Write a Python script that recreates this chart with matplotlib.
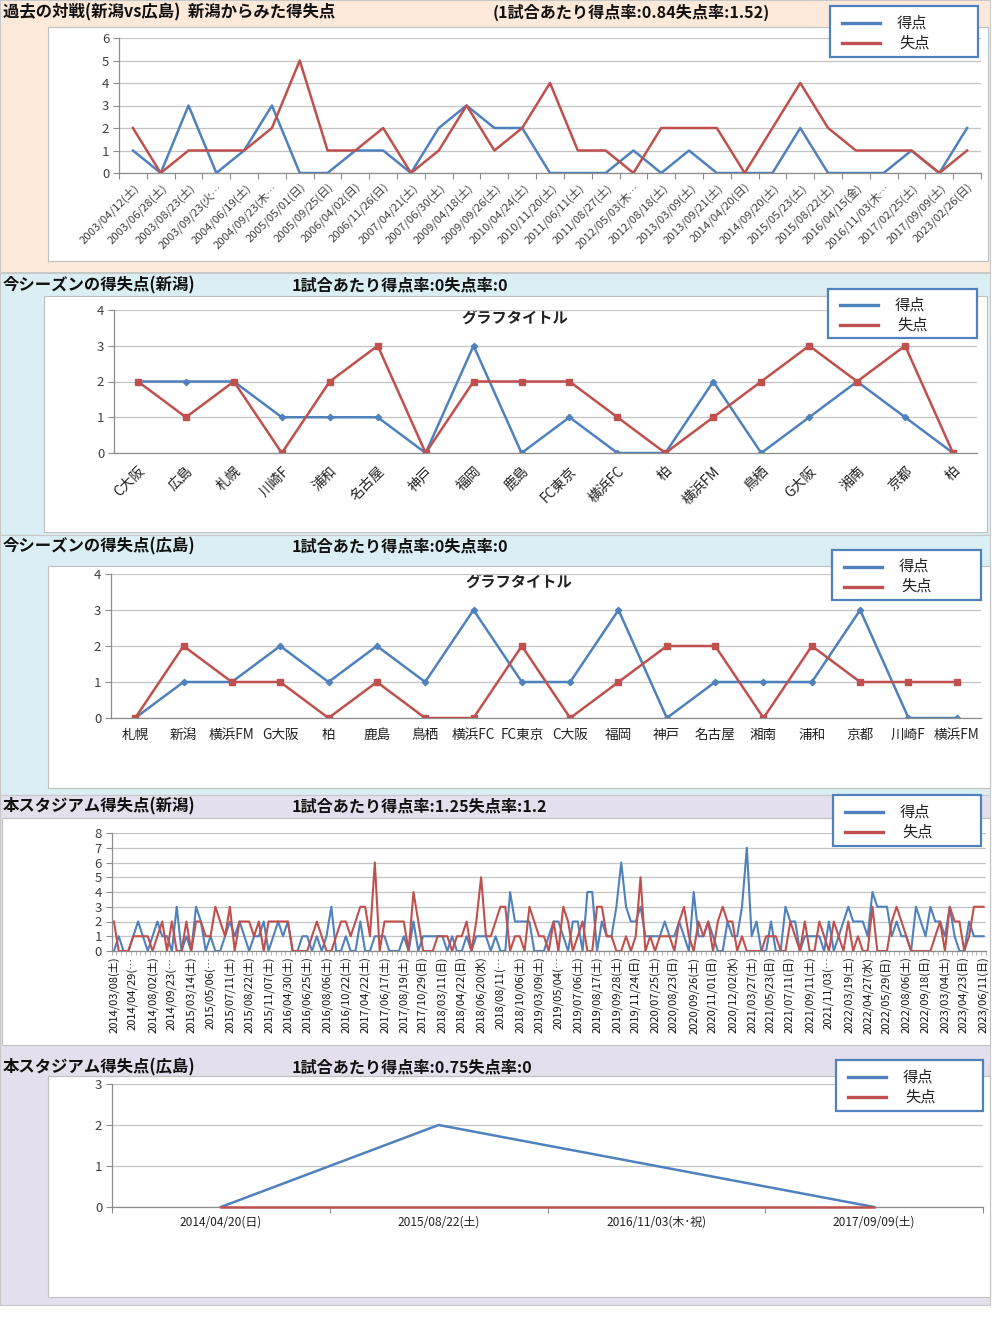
import matplotlib
matplotlib.use('Agg')
import matplotlib.pyplot as plt
from matplotlib.patches import Rectangle
from matplotlib.lines import Line2D
import numpy as np

plt.rcParams['font.family'] = ['Noto Sans CJK JP', 'DejaVu Sans']

# ---------------- data ----------------
p1_dates = ["2003/04/12(土)", "2003/06/28(土)", "2003/08/23(土)", "2003/09/23(火…",
            "2004/06/19(土)", "2004/09/23(木…", "2005/05/01(日)", "2005/09/25(日)",
            "2006/04/02(日)", "2006/11/26(日)", "2007/04/21(土)", "2007/06/30(土)",
            "2009/04/18(土)", "2009/09/26(土)", "2010/04/24(土)", "2010/11/20(土)",
            "2011/06/11(土)", "2011/08/27(土)", "2012/05/03(木…", "2012/08/18(土)",
            "2013/03/09(土)", "2013/09/21(土)", "2014/04/20(日)", "2014/09/20(土)",
            "2015/05/23(土)", "2015/08/22(土)", "2016/04/15(金)", "2016/11/03(木…",
            "2017/02/25(土)", "2017/09/09(土)", "2023/02/26(日)"]
p1_scored = [1, 0, 3, 0, 1, 3, 0, 0, 1, 1, 0, 2, 3, 2, 2, 0, 0, 0, 1, 0, 1, 0, 0, 0, 2, 0, 0, 0, 1, 0, 2]
p1_conceded = [2, 0, 1, 1, 1, 2, 5, 1, 1, 2, 0, 1, 3, 1, 2, 4, 1, 1, 0, 2, 2, 2, 0, 2, 4, 2, 1, 1, 1, 0, 1]

p2_teams = ["C大阪", "広島", "札幌", "川崎F", "浦和", "名古屋", "神戸", "福岡", "鹿島",
            "FC東京", "横浜FC", "柏", "横浜FM", "鳥栖", "G大阪", "湘南", "京都", "柏"]
p2_scored = [2, 2, 2, 1, 1, 1, 0, 3, 0, 1, 0, 0, 2, 0, 1, 2, 1, 0]
p2_conceded = [2, 1, 2, 0, 2, 3, 0, 2, 2, 2, 1, 0, 1, 2, 3, 2, 3, 0]

p3_teams = ["札幌", "新潟", "横浜FM", "G大阪", "柏", "鹿島", "鳥栖", "横浜FC", "FC東京",
            "C大阪", "福岡", "神戸", "名古屋", "湘南", "浦和", "京都", "川崎F", "横浜FM"]
p3_scored = [0, 1, 1, 2, 1, 2, 1, 3, 1, 1, 3, 0, 1, 1, 1, 3, 0, 0]
p3_conceded = [0, 2, 1, 1, 0, 1, 0, 0, 2, 0, 1, 2, 2, 0, 2, 1, 1, 1]

p4_labels = ["2014/03/08(土)", "2014/04/29(…", "2014/08/02(土)", "2014/09/23(…",
             "2015/03/14(土)", "2015/05/06(…", "2015/07/11(土)", "2015/08/22(土)",
             "2015/11/07(土)", "2016/04/30(土)", "2016/06/25(土)", "2016/08/06(土)",
             "2016/10/22(土)", "2017/04/22(土)", "2017/06/17(土)", "2017/08/19(土)",
             "2017/10/29(日)", "2018/03/11(日)", "2018/04/22(日)", "2018/06/20(水)",
             "2018/08/11(…", "2018/10/06(土)", "2019/03/09(土)", "2019/05/04(…",
             "2019/07/06(土)", "2019/08/17(土)", "2019/09/28(土)", "2019/11/24(日)",
             "2020/07/25(土)", "2020/08/23(日)", "2020/09/26(土)", "2020/11/01(日)",
             "2020/12/02(水)", "2021/03/27(土)", "2021/05/23(日)", "2021/07/11(日)",
             "2021/09/11(土)", "2021/11/03(…", "2022/03/19(土)", "2022/04/27(水)",
             "2022/05/29(日)", "2022/08/06(土)", "2022/09/18(日)", "2023/03/04(土)",
             "2023/04/23(日)", "2023/06/11(日)"]
p4_scored = [0, 1, 0, 0, 1, 2, 1, 0, 1, 2, 1, 1, 0, 3, 0, 1, 0, 3, 2, 0,
             1, 0, 0, 1, 2, 1, 2, 1, 0, 1, 1, 2, 0, 1, 2, 1, 2, 0, 0, 1,
             1, 0, 1, 0, 1, 3, 0, 0, 1, 0, 0, 2, 0, 0, 1, 1, 1, 0, 0, 0,
             1, 0, 2, 0, 1, 1, 1, 1, 1, 0, 1, 0, 0, 1, 0, 1, 1, 1, 0, 1,
             0, 0, 4, 2, 2, 2, 2, 0, 0, 0, 1, 2, 2, 1, 0, 2, 2, 0, 4, 4,
             0, 2, 1, 1, 3, 6, 3, 2, 2, 3, 1, 1, 1, 1, 2, 1, 1, 2, 1, 0,
             4, 1, 1, 2, 1, 0, 0, 2, 1, 1, 3, 7, 1, 2, 0, 0, 2, 0, 0, 3,
             2, 2, 0, 1, 1, 1, 1, 0, 2, 0, 1, 2, 3, 2, 2, 2, 1, 4, 3, 3,
             3, 1, 2, 1, 1, 0, 3, 2, 1, 3, 2, 2, 1, 3, 1, 0, 0, 2, 1, 1, 1]
p4_conceded = [2, 0, 0, 0, 1, 1, 1, 1, 0, 1, 2, 0, 2, 0, 0, 2, 0, 2, 2, 1,
               1, 3, 2, 1, 3, 0, 2, 2, 2, 1, 2, 0, 2, 2, 2, 2, 2, 0, 0, 0,
               0, 1, 2, 1, 0, 0, 1, 2, 2, 1, 2, 3, 3, 1, 6, 0, 2, 2, 2, 2,
               2, 0, 4, 2, 0, 0, 0, 1, 1, 1, 0, 1, 1, 2, 0, 2, 5, 1, 1, 2,
               3, 3, 0, 1, 1, 0, 3, 2, 1, 1, 0, 2, 0, 3, 2, 0, 1, 2, 0, 0,
               3, 3, 1, 1, 0, 0, 1, 0, 1, 5, 0, 1, 0, 1, 1, 1, 0, 2, 3, 1,
               0, 2, 1, 2, 0, 2, 3, 2, 2, 0, 1, 0, 0, 0, 0, 1, 1, 1, 0, 0,
               2, 1, 0, 2, 0, 0, 2, 1, 0, 2, 1, 0, 2, 0, 1, 0, 0, 3, 0, 0,
               0, 2, 3, 2, 1, 0, 0, 0, 0, 0, 1, 2, 0, 3, 2, 2, 0, 1, 3, 3, 3]
p4_label_every = 4

p5_dates = ["2014/04/20(日)", "2015/08/22(土)", "2016/11/03(木･祝)", "2017/09/09(土)"]
p5_scored = [0, 2, 1, 0]
p5_conceded = [0, 0, 0, 0]

# ---------------- styles ----------------
BLUE = '#4F81BD'
RED = '#C0504D'
GRID = '#C4C4C4'
AXC = '#8C8C8C'
TICKC = '#404040'

W, H = 1000, 1330
fig = plt.figure(figsize=(10, 13.3), dpi=100)


def frac(x0, y0, x1, y1):
    return [x0 / W, 1 - y1 / H, (x1 - x0) / W, (y1 - y0) / H]


bg = fig.add_axes([0, 0, 1, 1], zorder=-5)
bg.set_xlim(0, W); bg.set_ylim(H, 0); bg.axis('off')
fg = fig.add_axes([0, 0, 1, 1], zorder=20)
fg.set_xlim(0, W); fg.set_ylim(H, 0); fg.axis('off')

# panel backgrounds
bands = [((0, 0, 990, 272), '#FDE9D9'),
         ((0, 273, 990, 535), '#DBEEF4'),
         ((0, 535, 990, 795), '#DBEEF4'),
         ((0, 795, 990, 1305), '#E4DFEC')]
for (x0, y0, x1, y1), c in bands:
    bg.add_patch(Rectangle((x0, y0), x1 - x0, y1 - y0, facecolor=c, edgecolor='#C8C8C8', lw=0.8))

# chart areas
charts = [(48, 27, 988, 261), (44, 296, 987, 532), (48, 566, 990, 788),
          (2, 818, 990, 1045), (48, 1076, 990, 1297)]
for (x0, y0, x1, y1) in charts:
    bg.add_patch(Rectangle((x0, y0), x1 - x0, y1 - y0, facecolor='white', edgecolor='#BFBFBF', lw=0.8))

# titles
titles = [(12, "過去の対戦(新潟vs広島)  新潟からみた得失点", 493, "(1試合あたり得点率:0.84失点率:1.52)"),
          (285, "今シーズンの得失点(新潟)", 292, "1試合あたり得点率:0失点率:0"),
          (546, "今シーズンの得失点(広島)", 292, "1試合あたり得点率:0失点率:0"),
          (806, "本スタジアム得失点(新潟)", 292, "1試合あたり得点率:1.25失点率:1.2"),
          (1067, "本スタジアム得失点(広島)", 292, "1試合あたり得点率:0.75失点率:0")]
for y, t1, x2, t2 in titles:
    bg.text(3, y, t1, fontsize=11.8, fontweight='bold', va='center', ha='left', color='#111111')
    bg.text(x2, y, t2, fontsize=11.6, fontweight='bold', va='center', ha='left', color='#111111')

# inner chart titles
bg.text(515, 318, "グラフタイトル", fontsize=11, fontweight='bold', va='center', ha='center', color='#222222')
bg.text(519, 582, "グラフタイトル", fontsize=11, fontweight='bold', va='center', ha='center', color='#222222')


def style_axes(ax, ymax, xlim):
    ax.set_ylim(0, ymax)
    ax.set_xlim(*xlim)
    ax.set_yticks(range(0, ymax + 1))
    ax.yaxis.grid(True, color=GRID, lw=0.9)
    ax.set_axisbelow(True)
    for s in ['top', 'right']:
        ax.spines[s].set_visible(False)
    for s in ['left', 'bottom']:
        ax.spines[s].set_color(AXC)
        ax.spines[s].set_linewidth(0.9)
    ax.tick_params(axis='y', colors=AXC, labelcolor=TICKC, labelsize=9.5, length=4, width=0.8, pad=3)
    ax.patch.set_alpha(0)


def add_legend(x0, y0, x1, y1):
    fg.add_patch(Rectangle((x0, y0), x1 - x0, y1 - y0, facecolor='white', edgecolor=BLUE, lw=1.6))
    h = y1 - y0
    ya = y0 + h * 0.33
    yb = y0 + h * 0.73
    fg.add_line(Line2D([x0 + 12, x0 + 50], [ya, ya], color=BLUE, lw=2.4))
    fg.add_line(Line2D([x0 + 12, x0 + 50], [yb, yb], color=RED, lw=2.4))
    fg.text(x0 + 67, ya, "得点", fontsize=11, va='center', ha='left', color='#222222')
    fg.text(x0 + 69, yb, "失点", fontsize=11, va='center', ha='left', color='#222222')


# ---------- Panel 1 ----------
ax1 = fig.add_axes(frac(119, 38, 981, 173))
n1 = len(p1_dates)
x1 = np.arange(n1)
ax1.plot(x1, p1_scored, color=BLUE, lw=1.8)
ax1.plot(x1, p1_conceded, color=RED, lw=1.8)
style_axes(ax1, 6, (-0.5, n1 - 0.5))
ax1.set_xticks(x1)
ax1.set_xticklabels(p1_dates, rotation=45, ha='right', va='top', rotation_mode='anchor', fontsize=8.2, color=TICKC)
ax1.set_xticks(np.arange(n1 + 1) - 0.5, minor=True)
ax1.tick_params(axis='x', which='major', length=0, pad=6)
ax1.tick_params(axis='x', which='minor', length=4, color=AXC, width=0.8)
add_legend(830, 6, 978, 57)

# ---------- Panel 2 ----------
ax2 = fig.add_axes(frac(114, 310, 977, 453))
n2 = len(p2_teams)
x2 = np.arange(n2)
ax2.plot(x2, p2_scored, color=BLUE, lw=1.8, marker='D', ms=3.2)
ax2.plot(x2, p2_conceded, color=RED, lw=1.8, marker='s', ms=4.5)
style_axes(ax2, 4, (-0.5, n2 - 0.5))
ax2.set_xticks(x2)
ax2.set_xticklabels(p2_teams, rotation=45, ha='right', va='top', rotation_mode='anchor', fontsize=10, color='#222222')
ax2.tick_params(axis='x', which='major', length=0, pad=8)
add_legend(828, 289, 977, 338)

# ---------- Panel 3 ----------
ax3 = fig.add_axes(frac(111, 574, 981, 718))
n3 = len(p3_teams)
x3 = np.arange(n3)
ax3.plot(x3, p3_scored, color=BLUE, lw=1.8, marker='D', ms=3.2)
ax3.plot(x3, p3_conceded, color=RED, lw=1.8, marker='s', ms=4.5)
style_axes(ax3, 4, (-0.5, n3 - 0.5))
ax3.set_xticks(x3)
ax3.set_xticklabels(p3_teams, fontsize=9.8, color='#222222')
ax3.tick_params(axis='x', which='major', length=0, pad=7)
add_legend(832, 550, 981, 600)

# ---------- Panel 4 ----------
ax4 = fig.add_axes(frac(111.5, 833, 986, 951))
n4 = len(p4_scored)
x4 = np.arange(n4)
ax4.plot(x4, p4_scored, color=BLUE, lw=1.5)
ax4.plot(x4, p4_conceded, color=RED, lw=1.5)
style_axes(ax4, 8, (-0.5, n4 - 0.5))
ax4.set_xticks(x4[::p4_label_every])
ax4.set_xticklabels(p4_labels, rotation=90, ha='center', va='top', fontsize=8, color='#111111')
ax4.set_xticks(np.arange(n4 + 1) - 0.5, minor=True)
ax4.tick_params(axis='x', which='major', length=0, pad=4)
ax4.tick_params(axis='x', which='minor', length=3, color='#AAAAAA', width=0.6)
add_legend(833, 795, 981, 846)

# ---------- Panel 5 ----------
ax5 = fig.add_axes(frac(112, 1084, 983, 1207))
n5 = len(p5_dates)
x5 = np.arange(n5)
ax5.plot(x5, p5_scored, color=BLUE, lw=1.8, zorder=4)
ax5.plot(x5, p5_conceded, color=RED, lw=1.8, zorder=5, clip_on=False)
style_axes(ax5, 3, (-0.5, n5 - 0.5))
ax5.set_xticks(x5)
ax5.set_xticklabels(p5_dates, fontsize=8.6, color='#222222')
ax5.set_xticks(np.arange(n5 + 1) - 0.5, minor=True)
ax5.tick_params(axis='x', which='major', length=0, pad=6)
ax5.tick_params(axis='x', which='minor', length=4, color=AXC, width=0.8)
add_legend(836, 1060, 983, 1111)

fig.savefig('out.png', dpi=100)
